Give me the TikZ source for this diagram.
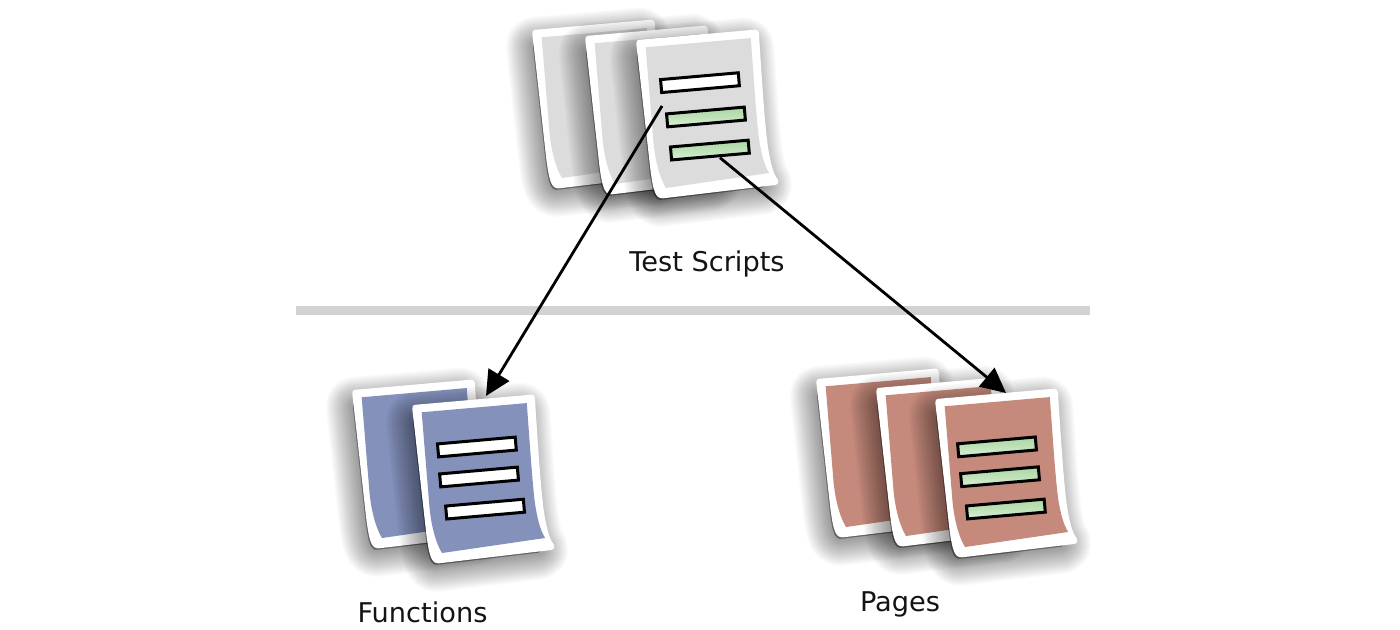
\documentclass[tikz,border=0pt]{standalone}
\usepackage{fontspec}
\setmainfont{DejaVu Sans}
\usetikzlibrary{arrows.meta}
\definecolor{graypaper}{HTML}{DCDCDC}
\definecolor{bluepaper}{HTML}{8391BB}
\definecolor{pinkpaper}{HTML}{C58A7B}
\definecolor{barlight}{HTML}{DDF1D8}
\definecolor{bardark}{HTML}{ABD7A3}
\definecolor{rulegray}{HTML}{D2D2D2}
\tikzset{
  x=0.5pt,y=-0.5pt,
  plainbar/.style={draw=black,line width=1.5pt,fill=white,transform shape,minimum width=39pt,minimum height=6.5pt,inner sep=0pt},
  greenbar/.style={plainbar,top color=bardark,bottom color=barlight,middle color=bardark!60!barlight},
  link/.style={line width=1.4pt,-{Triangle[length=12.5pt,width=12pt]}},
  caption/.style={font=\fontsize{13.6}{16}\selectfont,text=black!92,inner sep=0pt}
}
\newcommand{\outerpath}{(2,0) -- (119,0) .. controls (121,0) and (122,2) .. (122,4) .. controls (121,50) and (120,90) .. (121,115) .. controls (122,133) and (124,145) .. (128,151) .. controls (129,154) and (128,156) .. (125,156.5) -- (12,160) .. controls (4,160) and (3,150) .. (2,130) -- (-1,4) .. controls (-1,1) and (0,0) .. (2,0) -- cycle}
\newcommand{\innerpath}{(8,8) -- (113.5,8) .. controls (113,50) and (112,90) .. (113,110) .. controls (114,125) and (116,136) .. (120,144) -- (16,150) .. controls (11,140) and (8,125) .. (7.5,105) -- cycle}
\newcommand{\docpage}[1]{%
  \foreach \w in {3,6,...,54}{
    \path[draw=black,fill=black,opacity=0.024,line width=\w*0.5pt,line join=round,shift={(-6,14)},xscale=0.9,yscale=0.92,shift={(6,0)}] \outerpath;
  }
  \path[fill=white] \outerpath;
  \path[fill=#1] \innerpath;
}
\begin{document}
\begin{tikzpicture}
\useasboundingbox (0,0) rectangle (1400,630);
\fill[white] (0,0) rectangle (1400,630);
% test scripts
\begin{scope}[shift={(533,30)},rotate=5]\docpage{graypaper}\end{scope}
\begin{scope}[shift={(586,36)},rotate=5]\docpage{graypaper}\end{scope}
\begin{scope}[shift={(637,40)},rotate=5]\docpage{graypaper}
  \node[plainbar] (s1) at (59,48) {};
  \node[greenbar] (s2) at (62,82.7) {};
  \node[greenbar] (s3) at (63,116) {};
  \coordinate (scriptA) at (19.2,67.9);
  \coordinate (scriptB) at (72.4,124.5);
\end{scope}
% functions
\begin{scope}[shift={(353,390)},rotate=5]\docpage{bluepaper}\end{scope}
\begin{scope}[shift={(413,405)},rotate=5]\docpage{bluepaper}
  \node[plainbar] (f1) at (60,47.4) {};
  \node[plainbar] (f2) at (59.5,77.5) {};
  \node[plainbar] (f3) at (62.7,110) {};
\end{scope}
% pages
\begin{scope}[shift={(817,379)},rotate=5]\docpage{pinkpaper}\end{scope}
\begin{scope}[shift={(877,388)},rotate=5]\docpage{pinkpaper}\end{scope}
\begin{scope}[shift={(936,399)},rotate=5]\docpage{pinkpaper}
  \node[greenbar] (p1) at (56.6,53) {};
  \node[greenbar] (p2) at (57,83) {};
  \node[greenbar] (p3) at (60,115.7) {};
\end{scope}
% rule
\coordinate (ruleL) at (296,310);
\coordinate (ruleR) at (1090,310);
\draw[rulegray,line width=4.5pt] (ruleL) -- (ruleR);
% connectors
\coordinate (funcTop) at (486,396);
\coordinate (pagesTop) at (1006,393);
\draw[link] (scriptA) -- (funcTop);
\draw[link] (scriptB) -- (pagesTop);
% labels
\node[caption] (lt) at (707,264) {Test Scripts};
\node[caption] (lf) at (422.5,612) {Functions};
\node[caption] (lp) at (900,604) {Pages};
\end{tikzpicture}
\end{document}
